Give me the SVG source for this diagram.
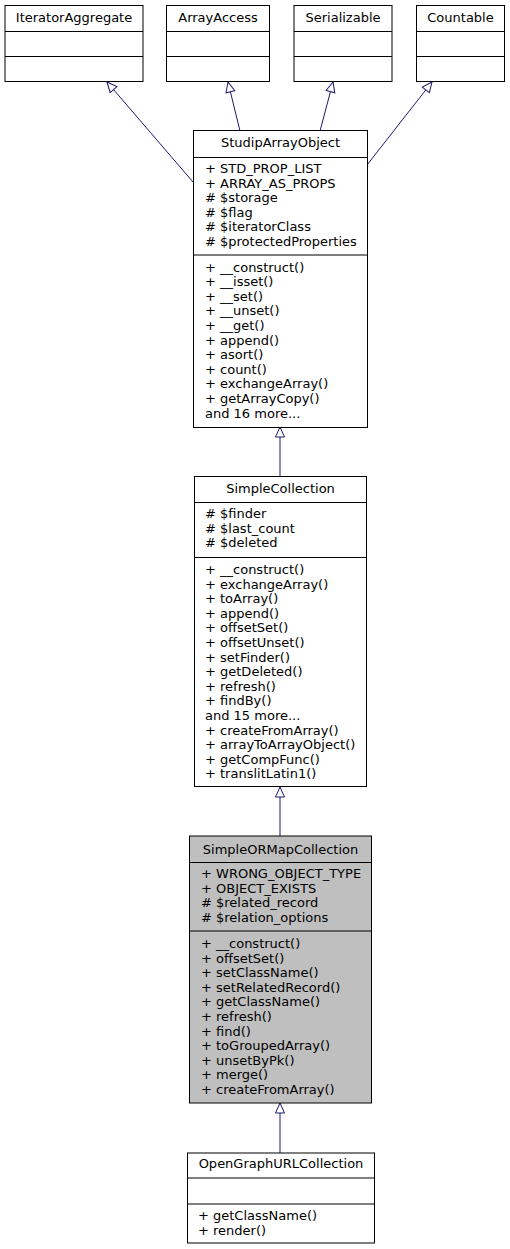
<svg xmlns="http://www.w3.org/2000/svg" width="510" height="1249" viewBox="0 0 510 1249">
<style>
.box{fill:#ffffff;stroke:#000000;stroke-width:1}
.cur{fill:#bfbfbf;stroke:#000000;stroke-width:1}
.sep{stroke:#000000;stroke-width:1}
text{font-family:"DejaVu Sans","Liberation Sans",sans-serif;font-size:13px;fill:#000000}
.c{text-anchor:middle}
.edge{fill:none;stroke:#191970;stroke-width:1}
</style>
<defs>
<marker id="inh" markerWidth="12" markerHeight="12" viewBox="0 0 12 12" refX="11" refY="6" orient="auto" markerUnits="userSpaceOnUse">
<path d="M11,6 L1,1.5 L1,10.5 Z" fill="#ffffff" stroke="#191970" stroke-width="1"/>
</marker>
</defs>
<rect width="510" height="1249" fill="#ffffff"/>
<g id="connectors">
<path class="edge" d="M193,182 L107,82" marker-end="url(#inh)"/>
<path class="edge" d="M240,131 L228,82" marker-end="url(#inh)"/>
<path class="edge" d="M320,131 L333,82" marker-end="url(#inh)"/>
<path class="edge" d="M367,165 L432,82" marker-end="url(#inh)"/>
<path class="edge" d="M280,477 L280,427" marker-end="url(#inh)"/>
<path class="edge" d="M280,836 L280,787" marker-end="url(#inh)"/>
<path class="edge" d="M280,1153 L280,1103" marker-end="url(#inh)"/>
</g>
<g id="IteratorAggregate">
<rect class="box" x="5" y="5.5" width="138" height="76"/>
<line class="sep" x1="5" y1="31.5" x2="143" y2="31.5"/>
<line class="sep" x1="5" y1="56.5" x2="143" y2="56.5"/>
<text class="c" x="74" y="22">IteratorAggregate</text>
</g>
<g id="ArrayAccess">
<rect class="box" x="166.5" y="5.5" width="103" height="76"/>
<line class="sep" x1="166.5" y1="31.5" x2="269.5" y2="31.5"/>
<line class="sep" x1="166.5" y1="56.5" x2="269.5" y2="56.5"/>
<text class="c" x="218" y="22">ArrayAccess</text>
</g>
<g id="Serializable">
<rect class="box" x="294" y="5.5" width="98" height="76"/>
<line class="sep" x1="294" y1="31.5" x2="392" y2="31.5"/>
<line class="sep" x1="294" y1="56.5" x2="392" y2="56.5"/>
<text class="c" x="343" y="22">Serializable</text>
</g>
<g id="Countable">
<rect class="box" x="416.5" y="5.5" width="88" height="76"/>
<line class="sep" x1="416.5" y1="31.5" x2="504.5" y2="31.5"/>
<line class="sep" x1="416.5" y1="56.5" x2="504.5" y2="56.5"/>
<text class="c" x="460.5" y="22">Countable</text>
</g>
<g id="StudipArrayObject">
<rect class="box" x="193.5" y="130.5" width="174" height="297"/>
<line class="sep" x1="193.5" y1="157.5" x2="367.5" y2="157.5"/>
<line class="sep" x1="193.5" y1="255" x2="367.5" y2="255"/>
<text class="c" x="280.5" y="147">StudipArrayObject</text>
<text x="205" y="173">+ STD_PROP_LIST</text>
<text x="205" y="187.5">+ ARRAY_AS_PROPS</text>
<text x="205" y="202"># $storage</text>
<text x="205" y="216.5"># $flag</text>
<text x="205" y="231"># $iteratorClass</text>
<text x="205" y="245.5"># $protectedProperties</text>
<text x="205" y="271.5">+ __construct()</text>
<text x="205" y="286.1">+ __isset()</text>
<text x="205" y="300.7">+ __set()</text>
<text x="205" y="315.3">+ __unset()</text>
<text x="205" y="329.9">+ __get()</text>
<text x="205" y="344.5">+ append()</text>
<text x="205" y="359.1">+ asort()</text>
<text x="205" y="373.7">+ count()</text>
<text x="205" y="388.3">+ exchangeArray()</text>
<text x="205" y="402.9">+ getArrayCopy()</text>
<text x="205" y="417.5">and 16 more...</text>
</g>
<g id="SimpleCollection">
<rect class="box" x="194.5" y="476.5" width="172" height="310"/>
<line class="sep" x1="194.5" y1="502.5" x2="366.5" y2="502.5"/>
<line class="sep" x1="194.5" y1="557.5" x2="366.5" y2="557.5"/>
<text class="c" x="280.5" y="493">SimpleCollection</text>
<text x="205" y="518"># $finder</text>
<text x="205" y="532.6"># $last_count</text>
<text x="205" y="547.2"># $deleted</text>
<text x="205" y="574">+ __construct()</text>
<text x="205" y="588.6">+ exchangeArray()</text>
<text x="205" y="603.2">+ toArray()</text>
<text x="205" y="617.8">+ append()</text>
<text x="205" y="632.4">+ offsetSet()</text>
<text x="205" y="647">+ offsetUnset()</text>
<text x="205" y="661.6">+ setFinder()</text>
<text x="205" y="676.2">+ getDeleted()</text>
<text x="205" y="690.8">+ refresh()</text>
<text x="205" y="705.4">+ findBy()</text>
<text x="205" y="720">and 15 more...</text>
<text x="205" y="734.6">+ createFromArray()</text>
<text x="205" y="749.2">+ arrayToArrayObject()</text>
<text x="205" y="763.8">+ getCompFunc()</text>
<text x="205" y="778.4">+ translitLatin1()</text>
</g>
<g id="SimpleORMapCollection">
<rect class="cur" x="189.5" y="836" width="182" height="267"/>
<line class="sep" x1="189.5" y1="862.5" x2="371.5" y2="862.5"/>
<line class="sep" x1="189.5" y1="931" x2="371.5" y2="931"/>
<text class="c" x="280.5" y="853.5">SimpleORMapCollection</text>
<text x="201" y="878">+ WRONG_OBJECT_TYPE</text>
<text x="201" y="892.6">+ OBJECT_EXISTS</text>
<text x="201" y="907.2"># $related_record</text>
<text x="201" y="921.8"># $relation_options</text>
<text x="201" y="948">+ __construct()</text>
<text x="201" y="962.6">+ offsetSet()</text>
<text x="201" y="977.2">+ setClassName()</text>
<text x="201" y="991.8">+ setRelatedRecord()</text>
<text x="201" y="1006.4">+ getClassName()</text>
<text x="201" y="1021">+ refresh()</text>
<text x="201" y="1035.6">+ find()</text>
<text x="201" y="1050.2">+ toGroupedArray()</text>
<text x="201" y="1064.8">+ unsetByPk()</text>
<text x="201" y="1079.4">+ merge()</text>
<text x="201" y="1094">+ createFromArray()</text>
</g>
<g id="OpenGraphURLCollection">
<rect class="box" x="187.5" y="1153" width="187" height="90"/>
<line class="sep" x1="187.5" y1="1178" x2="374.5" y2="1178"/>
<line class="sep" x1="187.5" y1="1204" x2="374.5" y2="1204"/>
<text class="c" x="281" y="1168">OpenGraphURLCollection</text>
<text x="198" y="1220">+ getClassName()</text>
<text x="198" y="1234.5">+ render()</text>
</g>
</svg>
